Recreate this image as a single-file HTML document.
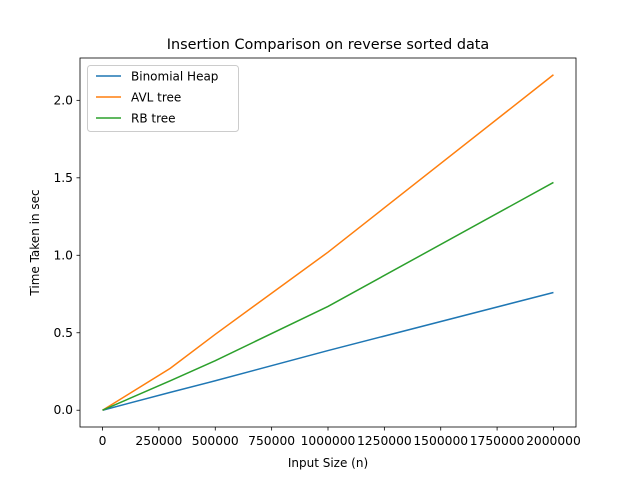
<!DOCTYPE html>
<html><head><meta charset="utf-8"><style>body{margin:0;background:#fff}svg{font-family:"DejaVu Sans","Liberation Sans",sans-serif}</style></head>
<body>
<svg id="c" width="640" height="480"></svg>
<script>
const xs=[0,300000,500000,1000000,2000000];
const binomial=[0,0.115,0.19,0.385,0.76];
const avl=[0,0.27,0.49,1.02,2.165];
const rb=[0,0.19,0.32,0.67,1.47];
const xTicks=[0,250000,500000,750000,1000000,1250000,1500000,1750000,2000000];
const yTicks=[0,0.5,1.0,1.5,2.0];
const seriesNames=["Binomial Heap","AVL tree","RB tree"];
const colors=["#1f77b4","#ff7f0e","#2ca02c"];
const L=80,R=576,T=58,B=427;
const xmin=-100000,xmax=2100000,ymin=-0.10825,ymax=2.27325;
const X=v=>L+(v-xmin)/(xmax-xmin)*(R-L);
const Y=v=>B-(v-ymin)/(ymax-ymin)*(B-T);
const svg=document.getElementById('c');const NS="http://www.w3.org/2000/svg";
function mk(t,a,p){const e=document.createElementNS(NS,t);for(const k in a)e.setAttribute(k,a[k]);(p||svg).appendChild(e);return e;}
const title=mk('text',{x:328,y:49,'text-anchor':'middle','font-size':'14.4'});title.textContent="Insertion Comparison on reverse sorted data";


xTicks.forEach(v=>{const x=X(v);mk('line',{x1:x,x2:x,y1:B,y2:B+3.5,stroke:'#000','stroke-width':0.8});
const t=mk('text',{x:x,y:B+18,'text-anchor':'middle','font-size':'12.3'});t.textContent=v;

});
yTicks.forEach(v=>{const y=Y(v);mk('line',{x1:L,x2:L-3.5,y1:y,y2:y,stroke:'#000','stroke-width':0.8});
const t=mk('text',{x:L-7,y:y+4,'text-anchor':'end','font-size':'12.3'});t.textContent=v.toFixed(1);

});
const xl=mk('text',{x:328,y:467,'text-anchor':'middle','font-size':'12'});xl.textContent="Input Size (n)";


const yl=mk('text',{x:0,y:0,'text-anchor':'middle','font-size':'12',transform:`translate(39,${(T+B)/2}) rotate(-90)`});yl.textContent="Time Taken in sec";


[binomial,avl,rb].forEach((s,i)=>{const p=mk('polyline',{points:xs.map((x,j)=>X(x)+','+Y(s[j])).join(' '),fill:'none',stroke:colors[i],'stroke-width':1.5});

});
const frame=mk('rect',{x:L,y:T,width:R-L,height:B-T,fill:'none',stroke:'#000','stroke-width':0.8});


const lg=mk('g',{});


mk('rect',{x:87.5,y:65.5,width:151,height:66,rx:3,fill:'#fff','fill-opacity':0.8,stroke:'#ccc'},lg);
seriesNames.forEach((n,i)=>{const y=76+i*21;mk('line',{x1:96,x2:121,y1:y,y2:y,stroke:colors[i],'stroke-width':1.5},lg);
const t=mk('text',{x:131,y:y+4.5,'font-size':'12'},lg);t.textContent=n;

});
</script>
</body></html>
